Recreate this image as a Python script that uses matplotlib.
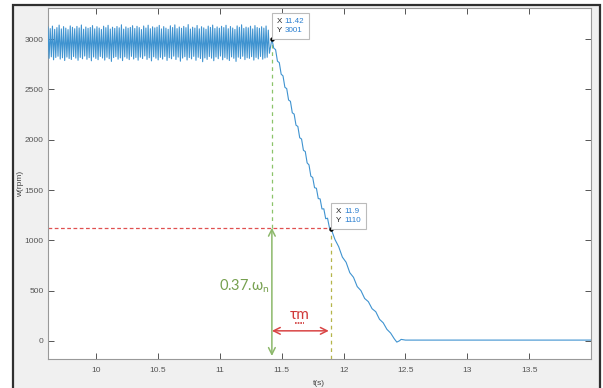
import numpy as np
import matplotlib.pyplot as plt
from matplotlib.patches import Rectangle
from matplotlib.offsetbox import TextArea, HPacker, AnnotationBbox

plt.rcParams['font.family'] = ['Liberation Sans', 'DejaVu Sans']

# steady-state speed ripple (peaks / troughs, rpm) between t0 and t1
t_steady_start, t_steady_end = 9.61, 11.40
peaks = [
    3120, 3105, 3130, 3098, 3115, 3140, 3102, 3125, 3110, 3095,
    3132, 3118, 3104, 3127, 3112, 3141, 3099, 3121, 3108, 3116,
    3135, 3103, 3124, 3111, 3097, 3129, 3114, 3138, 3101, 3119,
    3107, 3126, 3113, 3143, 3100, 3122, 3109, 3117, 3134, 3106,
    3128, 3115, 3096, 3131, 3111, 3139, 3104, 3123, 3112, 3120,
    3137, 3102, 3125, 3110, 3098, 3133, 3116, 3142, 3105, 3121,
    3108, 3127, 3114, 3145, 3101, 3119, 3110, 3136, 3103, 3124,
    3112, 3099, 3130, 3117, 3140, 3106, 3122, 3109, 3128, 3115,
    3138, 3104, 3126, 3111, 3097, 3132, 3118, 3143, 3107, 3120,
    3113, 3129, 3102, 3135, 3116, 3108, 3124, 3110, 3131, 3090,
]
troughs = [
    2810, 2825, 2795, 2818, 2830, 2802, 2815, 2788, 2822, 2808,
    2798, 2827, 2812, 2790, 2819, 2805, 2832, 2800, 2816, 2785,
    2823, 2809, 2796, 2828, 2813, 2792, 2820, 2806, 2779, 2817,
    2826, 2801, 2814, 2787, 2824, 2810, 2797, 2829, 2803, 2818,
    2791, 2821, 2807, 2833, 2799, 2815, 2784, 2825, 2811, 2794,
    2819, 2802, 2828, 2789, 2816, 2805, 2831, 2798, 2822, 2781,
    2812, 2826, 2793, 2817, 2804, 2829, 2790, 2820, 2808, 2776,
    2814, 2799, 2827, 2811, 2786, 2823, 2806, 2832, 2795, 2818,
    2803, 2788, 2824, 2810, 2779, 2821, 2807, 2830, 2797, 2815,
    2809, 2826, 2792, 2819, 2804, 2828, 2801, 2813, 2820, 2860,
]

# deceleration after the supply is cut
t_decay = [11.420, 11.435, 11.450, 11.465, 11.480, 11.495, 11.510, 11.525, 11.540,
           11.555, 11.570, 11.585, 11.600, 11.615, 11.630, 11.645, 11.660, 11.675,
           11.690, 11.705, 11.720, 11.735, 11.750, 11.765, 11.780, 11.795, 11.810,
           11.825, 11.840, 11.855, 11.870, 11.885, 11.900,
           11.93, 11.96, 11.99, 12.02, 12.05, 12.08, 12.11, 12.14, 12.17, 12.20,
           12.23, 12.26, 12.29, 12.32, 12.35, 12.38, 12.41, 12.43, 12.45, 12.465,
           12.48, 12.50, 14.0]
w_decay = [3001, 2911, 2896, 2781, 2767, 2652, 2635, 2522, 2508,
           2395, 2382, 2268, 2255, 2145, 2132, 2020, 2007, 1895,
           1883, 1770, 1750, 1638, 1625, 1523, 1518, 1415, 1412,
           1312, 1313, 1215, 1220, 1127, 1110,
           1008, 937, 833, 782, 678, 632, 540, 500, 422, 390,
           320, 290, 215, 180, 115, 78, 20, -12, 0, 15,
           12, 8, 8]

tip1 = (11.42, 3001)
tip2 = (11.9, 1110)
w_ref = 1125          # 0.37*wn level
tau_arrow_y = 100

# build series
w_steady = np.column_stack([peaks, troughs]).ravel()
t_steady = np.linspace(t_steady_start, t_steady_end, len(w_steady))
t = np.concatenate([t_steady, t_decay])
w = np.concatenate([w_steady, w_decay])

fig = plt.figure(figsize=(6.03, 3.88), dpi=100, facecolor='white')
# matlab figure frame
fig.patches.append(Rectangle((13 / 603, -0.02), 587 / 603, 383 / 388 + 0.02, transform=fig.transFigure,
                             facecolor='#f0f0f0', edgecolor='#303030', linewidth=1.6, zorder=-10))

ax = fig.add_axes([48 / 603, 1 - 359 / 388, 543 / 603, 351 / 388])
ax.set_facecolor('white')
ax.plot(t, w, color='#3f93d0', linewidth=0.8, zorder=3)

ax.set_xlim(9.61, 14.0)
ax.set_ylim(-180, 3310)
ax.set_xticks([10, 10.5, 11, 11.5, 12, 12.5, 13, 13.5])
ax.set_xticklabels(['10', '10.5', '11', '11.5', '12', '12.5', '13', '13.5'])
ax.set_yticks([0, 500, 1000, 1500, 2000, 2500, 3000])
ax.tick_params(direction='in', top=True, right=True, length=4, width=0.7,
               labelsize=6, colors='#555555')
ax.tick_params(axis='y', pad=3)
ax.tick_params(axis='x', pad=6)
for s in ax.spines.values():
    s.set_color('#999999')
    s.set_linewidth(0.8)

ax.set_xlabel('t(s)', fontsize=6, color='#444444')
ax.set_ylabel('w(rpm)', fontsize=6, color='#444444')
ax.xaxis.set_label_coords(0.499, -0.06)
ax.yaxis.set_label_coords(-0.045, 0.5)

# guide lines
ax.plot([9.61, tip2[0]], [w_ref, w_ref], color='#e05050', linewidth=0.9,
        linestyle=(0, (3, 2)), zorder=2)
ax.plot([tip1[0], tip1[0]], [w_ref, tip1[1]], color='#8cc46a', linewidth=0.9,
        linestyle=(0, (3, 3)), zorder=2)
ax.plot([tip2[0], tip2[0]], [-180, tip2[1]], color='#b5b54a', linewidth=0.9,
        linestyle=(0, (3, 3)), zorder=2)

# arrows
ax.annotate('', xy=(tip1[0], -150), xytext=(tip1[0], w_ref),
            arrowprops=dict(arrowstyle='<->', color='#8cb86a', lw=1.1,
                            mutation_scale=12, shrinkA=0, shrinkB=0))
ax.annotate('', xy=(11.88, tau_arrow_y), xytext=(tip1[0], tau_arrow_y),
            arrowprops=dict(arrowstyle='<->', color='#d94545', lw=1.1,
                            mutation_scale=12, shrinkA=0, shrinkB=0))

ax.text(11.20, 540, '0.37.ω$_\\mathregular{n}$', color='#76a04f', fontsize=10.5,
        ha='center', va='center', family=['Lato', 'DejaVu Sans'])
ax.text(11.645, 255, 'τm', color='#d03a3a', fontsize=11,
        ha='center', va='center', family=['Lato', 'DejaVu Sans'])
# dotted red underline below tau_m
ax.plot([11.61, 11.68], [178, 178], color='#d03a3a', linewidth=1.2, linestyle=(0, (1, 0.6)))

# data tips
for (xp, yp), xs, ys in [(tip1, '11.42', '3001'), (tip2, '11.9', '1110')]:
    ax.plot(xp, yp, 'o', color='black', markersize=2.2, zorder=5)
    lab = TextArea('X\nY', textprops=dict(fontsize=5.8, color='#222222', linespacing=1.45))
    val = TextArea(xs + '\n' + ys, textprops=dict(fontsize=5.8, color='#2a7fd0', linespacing=1.45))
    pack = HPacker(children=[lab, val], pad=0, sep=2)
    ab = AnnotationBbox(pack, (xp, yp), xybox=(3.5, 3.5), xycoords='data',
                        boxcoords='offset points', box_alignment=(0, 0), pad=0.35,
                        bboxprops=dict(facecolor='white', edgecolor='#bbbbbb', linewidth=0.8),
                        zorder=6)
    ax.add_artist(ab)

fig.savefig('out.png', dpi=100, facecolor=fig.get_facecolor())
